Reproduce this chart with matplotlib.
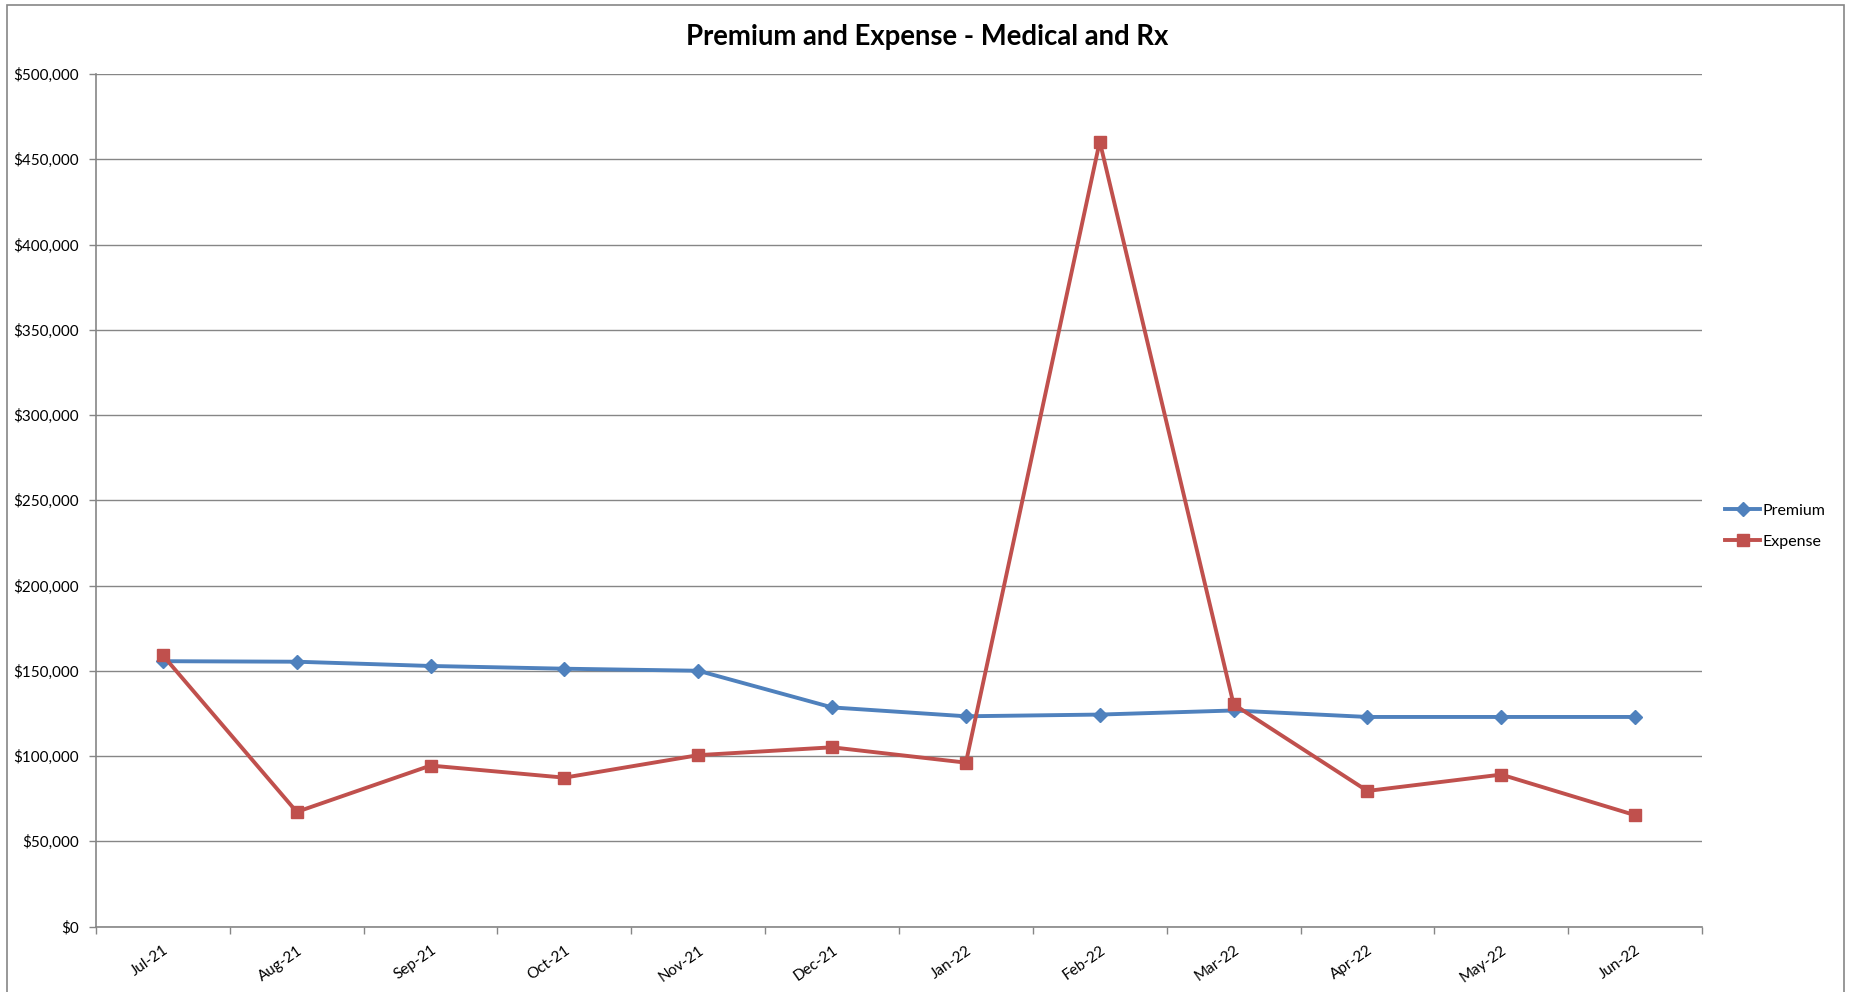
import matplotlib
matplotlib.use("Agg")
import matplotlib.pyplot as plt
from matplotlib.patches import Rectangle
from matplotlib.ticker import FuncFormatter, FixedLocator

# Data
months = ["Jul-21", "Aug-21", "Sep-21", "Oct-21", "Nov-21", "Dec-21",
          "Jan-22", "Feb-22", "Mar-22", "Apr-22", "May-22", "Jun-22"]
premium = [155600, 155300, 152800, 151200, 150000, 128500,
           123300, 124300, 126700, 122900, 122900, 122900]
expense = [159000, 67200, 94400, 87300, 100500, 105100,
           96100, 460400, 130300, 79500, 89100, 65300]

blue = "#4F81BD"
red = "#C0504D"
grey = "#868686"

plt.rcParams["font.family"] = ["Lato", "DejaVu Sans"]

W, H = 1856, 992
fig = plt.figure(figsize=(W / 100, H / 100), dpi=100)

# outer chart border (bottom edge falls off the picture)
fig.patches.append(Rectangle((7 / W, -0.05), (1844 - 7) / W, 1.05 - 5 / H,
                             transform=fig.transFigure, fill=False,
                             edgecolor=grey, linewidth=1.2))

ax = fig.add_axes([96 / W, 1 - 926.5 / H, (1702 - 96) / W, (926.5 - 74) / H])

x = list(range(len(months)))
ax.plot(x, premium, color=blue, lw=2.8, marker="D", ms=7, label="Premium", zorder=3)
ax.plot(x, expense, color=red, lw=2.8, marker="s", ms=8.5, label="Expense", zorder=4)

ax.set_xlim(-0.5, len(months) - 0.5)
ax.set_ylim(0, 500000)
ax.set_yticks(range(0, 500001, 50000))
ax.yaxis.set_major_formatter(FuncFormatter(lambda v, p: "${:,.0f}".format(v)))
ax.grid(axis="y", color=grey, lw=1.0)
ax.set_axisbelow(True)

ax.set_xticks(x)
ax.set_xticklabels(months, rotation=35, ha="right", va="top",
                   rotation_mode="anchor", fontsize=11)
ax.xaxis.set_minor_locator(FixedLocator([i - 0.5 for i in range(len(months) + 1)]))
ax.tick_params(axis="x", which="major", length=0, pad=12)
ax.tick_params(axis="x", which="minor", length=5, color=grey, width=1)
ax.tick_params(axis="y", length=5, color=grey, width=1, labelsize=11, pad=7)

for s in ["top", "right"]:
    ax.spines[s].set_visible(False)
for s in ["left", "bottom"]:
    ax.spines[s].set_color(grey)
    ax.spines[s].set_linewidth(1.2)

fig.text(927 / W, 1 - 37 / H, "Premium and Expense - Medical and Rx",
         ha="center", va="center", fontsize=19.8, fontweight="bold")

fig.legend(loc="center left", bbox_to_anchor=(1725 / W, 1 - 526 / H),
           frameon=False, fontsize=11.5, handlelength=2.2, handletextpad=0.15,
           borderpad=0, borderaxespad=0, labelspacing=1.05)

fig.savefig("out.png", dpi=100)
